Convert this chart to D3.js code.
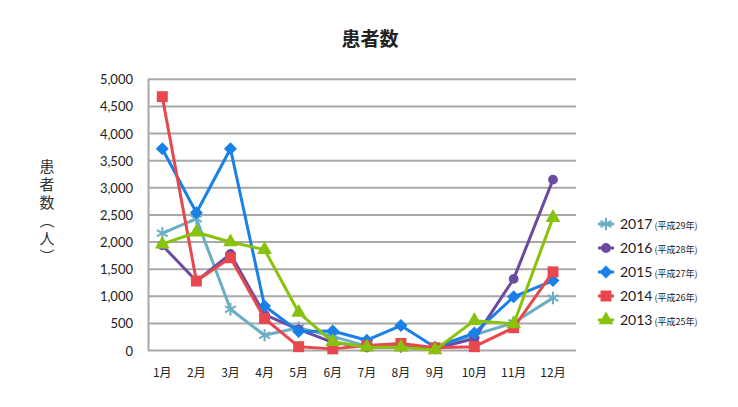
<!DOCTYPE html>
<html>
<head>
<meta charset="utf-8">
<script src="https://cdn.jsdelivr.net/npm/d3@7"></script>
<style>
  body { margin: 0; background: #fff; }
  text { font-family: Lato, "Noto Sans CJK JP", sans-serif; fill: #222; }
</style>
</head>
<body>
<script>
var width = 738,
  height = 407;

// data
const months = ["1月", "2月", "3月", "4月", "5月", "6月", "7月", "8月", "9月", "10月", "11月", "12月"];
const yTicks = [0, 500, 1000, 1500, 2000, 2500, 3000, 3500, 4000, 4500, 5000];
const years = ["2017", "2016", "2015", "2014", "2013"];
const eras = ["(平成29年)", "(平成28年)", "(平成27年)", "(平成26年)", "(平成25年)"];
const v2017 = [2160, 2430, 760, 280, 420, 260, 80, 70, 40, 290, 510, 970];
const v2016 = [1940, 1280, 1780, 660, 390, 150, 60, 70, 30, 220, 1320, 3150];
const v2015 = [3720, 2540, 3720, 820, 350, 360, 190, 460, 60, 320, 990, 1290];
const v2014 = [4680, 1280, 1710, 590, 70, 30, 90, 130, 50, 70, 420, 1450];
const v2013 = [1960, 2180, 2000, 1860, 700, 160, 60, 60, 10, 550, 490, 2450];

const series = [
  { name: years[0], era: eras[0], values: v2017, color: "#6aaec7", shape: "asterisk" },
  { name: years[1], era: eras[1], values: v2016, color: "#6b4b9f", shape: "circle" },
  { name: years[2], era: eras[2], values: v2015, color: "#1880e6", shape: "diamond" },
  { name: years[3], era: eras[3], values: v2014, color: "#e8484d", shape: "square" },
  { name: years[4], era: eras[4], values: v2013, color: "#88c20c", shape: "triangle" },
];

const svg = d3.select("body").append("svg").attr("width", width).attr("height", height);

const x = d3.scaleLinear().domain([0, 8, 11]).range([162.3, 435, 553]);
const y = d3.scaleLinear().domain([0, 5000]).range([350.5, 79.3]);

// title
svg.append("text")
  .attr("x", 370).attr("y", 46)
  .attr("text-anchor", "middle")
  .style("font-size", "19px").style("font-weight", "bold")
  .style("font-family", "'Noto Sans CJK JP', sans-serif")
  .text("患者数");

// y axis title, vertical writing
svg.append("text")
  .attr("x", 47).attr("y", 159)
  .style("writing-mode", "vertical-rl")
  .style("font-size", "15px")
  .style("letter-spacing", "3px")
  .style("font-family", "'Noto Sans CJK JP', sans-serif")
  .style("fill", "#333")
  .text("患者数（人）");

// grid
svg.append("g").selectAll("line").data(yTicks).enter().append("line")
  .attr("x1", 148).attr("x2", 576)
  .attr("y1", d => y(d)).attr("y2", d => y(d))
  .attr("stroke", "#a8a8a8").attr("stroke-width", 2);

svg.append("line")
  .attr("x1", 148.5).attr("x2", 148.5)
  .attr("y1", y(5000)).attr("y2", y(0))
  .attr("stroke", "#a8a8a8").attr("stroke-width", 2);

// y tick labels
svg.append("g").selectAll("text").data(yTicks).enter().append("text")
  .attr("x", 133)
  .attr("y", d => y(d) + 5)
  .attr("text-anchor", "end")
  .style("font-size", "13px")
  .text(d => d3.format(",")(d));

// x labels
svg.append("g").selectAll("text").data(months).enter().append("text")
  .attr("x", (d, i) => x(i))
  .attr("y", 377)
  .attr("text-anchor", "middle")
  .style("font-size", "12px")
  .style("font-family", "'Noto Sans CJK JP', sans-serif")
  .text(d => d);

const symbolType = {
  circle: d3.symbolCircle,
  diamond: d3.symbolSquare,
  square: d3.symbolSquare,
  triangle: d3.symbolTriangle,
  asterisk: d3.symbolAsterisk,
};
const symbolSize = { circle: 75, diamond: 85, square: 120, triangle: 95, asterisk: 110 };

function drawMarker(g, s) {
  if (s.shape === "asterisk") {
    return g.append("path")
      .attr("d", d3.symbol().type(d3.symbolAsterisk).size(symbolSize.asterisk)())
      .attr("fill", "none").attr("stroke", s.color).attr("stroke-width", 2);
  }
  const p = g.append("path")
    .attr("d", d3.symbol().type(symbolType[s.shape]).size(symbolSize[s.shape])())
    .attr("fill", s.color);
  if (s.shape === "diamond") p.attr("transform", "rotate(45)");
  return p;
}

const line = d3.line().x((d, i) => x(i)).y(d => y(d));

series.forEach(function (s) {
  const g = svg.append("g");
  g.append("path")
    .attr("d", line(s.values))
    .attr("fill", "none")
    .attr("stroke", s.color)
    .attr("stroke-width", 3)
    .attr("stroke-linejoin", "round");
  s.values.forEach(function (v, i) {
    const m = g.append("g").attr("transform", "translate(" + x(i) + "," + y(v) + ")");
    drawMarker(m, s);
  });
});

// legend
const legend = svg.append("g");
series.forEach(function (s, i) {
  const ly = 224 + i * 24;
  const g = legend.append("g").attr("transform", "translate(0," + ly + ")");
  g.append("line")
    .attr("x1", 598).attr("x2", 614)
    .attr("stroke", s.color).attr("stroke-width", 3);
  drawMarker(g.append("g").attr("transform", "translate(606,0)"), s);
  const t = g.append("text").attr("x", 620).attr("y", 5);
  t.append("tspan").style("font-size", "14px").text(s.name);
  t.append("tspan").attr("dx", 2).style("font-size", "9px")
    .style("font-family", "'Noto Sans CJK JP', sans-serif").text(s.era);
});
</script>
</body>
</html>
